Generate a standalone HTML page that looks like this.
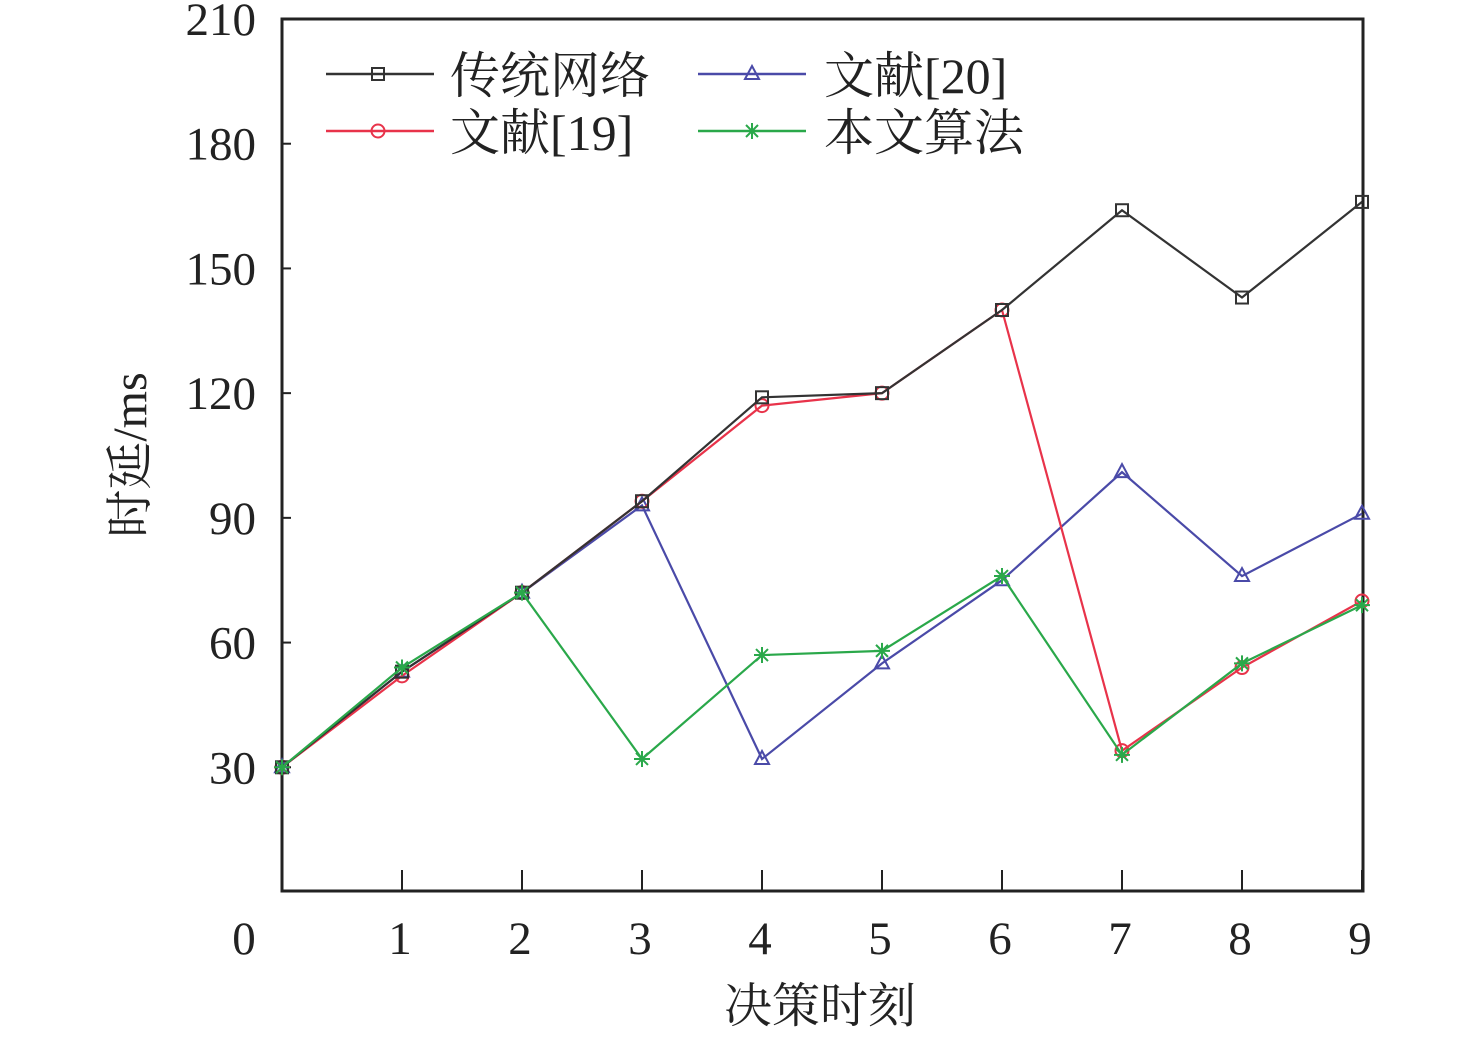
<!DOCTYPE html>
<html><head><meta charset="utf-8">
<style>
html,body{margin:0;padding:0;background:#fff;}
svg text{font-family:"Liberation Serif","Noto Serif CJK SC",serif;fill:#222;}
</style></head>
<body>
<svg id="chart" width="1476" height="1038" viewBox="0 0 1476 1038" xmlns="http://www.w3.org/2000/svg">
<rect x="282" y="19" width="1081" height="872" fill="none" stroke="#222" stroke-width="3"/>
<g id="ticks"></g>
<g id="series"></g>
<text transform="translate(146,455) rotate(-90)" font-size="48" text-anchor="middle">时延/ms</text>
<text x="820" y="1022" font-size="48" text-anchor="middle">决策时刻</text>
<g>
  <g>
    <line x1="326" y1="74" x2="434" y2="74" stroke="#333" stroke-width="2.5"/>
    <rect x="372" y="68" width="12" height="12" fill="none" stroke="#333" stroke-width="2"/>
    <text x="450" y="93" font-size="50">传统网络</text>
  </g>
  <g>
    <line x1="326" y1="131" x2="434" y2="131" stroke="#e8334a" stroke-width="2.5"/>
    <circle cx="378" cy="131" r="6.5" fill="none" stroke="#e8334a" stroke-width="2"/>
    <text x="450" y="150" font-size="50">文献[19]</text>
  </g>
  <g>
    <line x1="698" y1="74" x2="806" y2="74" stroke="#4a4aa8" stroke-width="2.5"/>
    <polygon points="752,66 759,79 745,79" fill="none" stroke="#4a4aa8" stroke-width="2"/>
    <text x="824" y="93" font-size="50">文献[20]</text>
  </g>
  <g>
    <line x1="698" y1="131" x2="806" y2="131" stroke="#2aa84a" stroke-width="2.5"/>
    <path d="M744,131H760M752,123V139M746,125L758,137M746,137L758,125" stroke="#2aa84a" stroke-width="2"/>
    <text x="824" y="150" font-size="50">本文算法</text>
  </g>
</g>
</svg>
<script>
const xCats = [0,1,2,3,4,5,6,7,8,9];
const yTicks = [30,60,90,120,150,180,210];
const traditional = [30,53,72,94,119,120,140,164,143,166];
const ref19 = [30,52,72,94,117,120,140,34,54,70];
const ref20 = [30,53,72,93,32,55,75,101,76,91];
const ours = [30,54,72,32,57,58,76,33,55,69];

const NS="http://www.w3.org/2000/svg";
const X0=282, XS=120, Y0=892, YS=873/210;
function xp(v){return X0+v*XS;}
function yp(v){return Y0-v*YS;}
function mk(tag,attrs,parent){const e=document.createElementNS(NS,tag);for(const k in attrs)e.setAttribute(k,attrs[k]);parent.appendChild(e);return e;}
const tg=document.getElementById('ticks');
yTicks.forEach(v=>{
  const l=mk('line',{x1:X0,x2:X0+9,y1:yp(v),y2:yp(v),stroke:'#222','stroke-width':2},tg);
  
  
  const t=mk('text',{x:256,y:yp(v)+16,'font-size':47,'text-anchor':'end'},tg);
  t.textContent=v;
  
  
});
xCats.forEach(v=>{
  if(v>0){
    const l=mk('line',{x1:xp(v),x2:xp(v),y1:891,y2:870,stroke:'#222','stroke-width':2},tg);
    
    
  }
  const t=mk('text',{x:v===0?244:xp(v)-2,y:954,'font-size':47,'text-anchor':'middle'},tg);
  t.textContent=v;
  
  
});
const sg=document.getElementById('series');
function series(data,color,marker,name){
  const g=mk('g',{},sg);
  
  
  mk('polyline',{points:data.map((v,i)=>xp(xCats[i])+','+yp(v)).join(' '),fill:'none',stroke:color,'stroke-width':2.2},g);
  data.forEach((v,i)=>{
    const x=xp(xCats[i]),y=yp(v);let m;
    if(marker==='sq')m=mk('rect',{x:x-6,y:y-6,width:12,height:12,fill:'none',stroke:color,'stroke-width':2},g);
    else if(marker==='ci')m=mk('circle',{cx:x,cy:y,r:6.5,fill:'none',stroke:color,'stroke-width':2},g);
    else if(marker==='tr')m=mk('polygon',{points:`${x},${y-8} ${x+7},${y+5} ${x-7},${y+5}`,fill:'none',stroke:color,'stroke-width':2},g);
    else{m=mk('path',{d:`M${x-8},${y}H${x+8}M${x},${y-8}V${y+8}M${x-6},${y-6}L${x+6},${y+6}M${x-6},${y+6}L${x+6},${y-6}`,stroke:color,'stroke-width':2},g);}
    
    
  });
}
series(ref20,'#4a4aa8','tr','series-ref20');
series(ref19,'#e8334a','ci','series-ref19');
series(traditional,'#333','sq','series-traditional');
series(ours,'#2aa84a','st','series-ours');
</script>
</body></html>
